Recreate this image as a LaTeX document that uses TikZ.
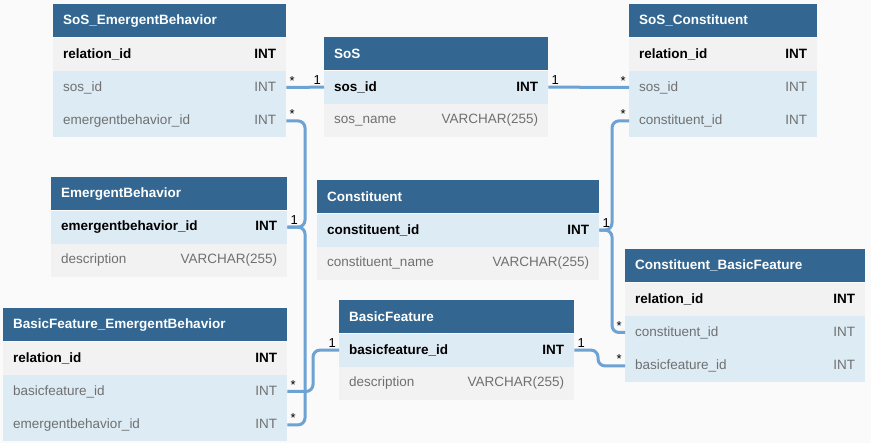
\documentclass[tikz,border=0pt]{standalone}
\usepackage{fontspec}
\setmainfont{Liberation Sans}
\usepackage{tikz}
\usetikzlibrary{positioning}
\definecolor{hdrblue}{HTML}{336791}
\definecolor{rowblue}{HTML}{DDEBF4}
\definecolor{rowgray}{HTML}{F2F2F2}
\definecolor{fieldgray}{HTML}{707070}
\definecolor{linkblue}{HTML}{6CA2D4}
\definecolor{bggray}{HTML}{FAFAFA}
\tikzset{tbl/.style={rectangle,anchor=north west,minimum height=33pt,inner xsep=10pt,inner ysep=0pt,text width=#1,align=left,font=\fontsize{13.5}{15}\selectfont},
  hdr/.style={tbl=#1,fill=hdrblue,text=white,font=\bfseries\fontsize{13.5}{15}\selectfont},
  pk/.style={tbl=#1,text=black,font=\bfseries\fontsize{13.5}{15}\selectfont},
  col/.style={tbl=#1,text=fieldgray},
  gr/.style={fill=rowgray},
  bl/.style={fill=rowblue},
  conn/.style={draw=linkblue,line width=3pt,rounded corners=7pt},
  card/.style={font=\fontsize{13}{14}\selectfont,inner sep=1pt,text=black}}

\begin{document}
\begin{tikzpicture}[x=1pt,y=-1pt]
        \fill[bggray] (0,0) rectangle (871,443);

        \node[hdr=213] (seb-h) at (53,4) {SoS\_EmergentBehavior};
        \node[pk=213,gr] (seb-rel) at (seb-h.south west) {relation\_id\hfill INT};
        \node[col=213,bl] (seb-sos) at (seb-rel.south west) {sos\_id\hfill INT};
        \node[col=213,bl] (seb-eb) at (seb-sos.south west) {emergentbehavior\_id\hfill INT};

        \node[hdr=204] (sos-h) at (324,37) {SoS};
        \node[pk=204,bl] (sos-id) at (sos-h.south west) {sos\_id\hfill INT};
        \node[col=204,gr] (sos-name) at (sos-id.south west) {sos\_name\hfill VARCHAR(255)};

        \node[hdr=168] (sc-h) at (629,4) {SoS\_Constituent};
        \node[pk=168,gr] (sc-rel) at (sc-h.south west) {relation\_id\hfill INT};
        \node[col=168,bl] (sc-sos) at (sc-rel.south west) {sos\_id\hfill INT};
        \node[col=168,bl] (sc-con) at (sc-sos.south west) {constituent\_id\hfill INT};

        \node[hdr=216] (eb-h) at (51,177) {EmergentBehavior};
        \node[pk=216,bl] (eb-id) at (eb-h.south west) {emergentbehavior\_id\hfill INT};
        \node[col=216,gr] (eb-desc) at (eb-id.south west) {description\hfill VARCHAR(255)};

        \node[hdr=262] (con-h) at (317,180) {Constituent};
        \node[pk=262,bl] (con-id) at (con-h.south west) {constituent\_id\hfill INT};
        \node[col=262,gr] (con-name) at (con-id.south west) {constituent\_name\hfill VARCHAR(255)};

        \node[hdr=220] (cbf-h) at (625,249) {Constituent\_BasicFeature};
        \node[pk=220,gr] (cbf-rel) at (cbf-h.south west) {relation\_id\hfill INT};
        \node[col=220,bl] (cbf-con) at (cbf-rel.south west) {constituent\_id\hfill INT};
        \node[col=220,bl] (cbf-bf) at (cbf-con.south west) {basicfeature\_id\hfill INT};

        \node[hdr=264] (bfeb-h) at (3,308) {BasicFeature\_EmergentBehavior};
        \node[pk=264,gr] (bfeb-rel) at (bfeb-h.south west) {relation\_id\hfill INT};
        \node[col=264,bl] (bfeb-bf) at (bfeb-rel.south west) {basicfeature\_id\hfill INT};
        \node[col=264,bl] (bfeb-eb) at (bfeb-bf.south west) {emergentbehavior\_id\hfill INT};

        \node[hdr=215] (bf-h) at (339,300) {BasicFeature};
        \node[pk=215,bl] (bf-id) at (bf-h.south west) {basicfeature\_id\hfill INT};
        \node[col=215,gr] (bf-desc) at (bf-id.south west) {description\hfill VARCHAR(255)};

        \coordinate (ebbus) at (305,0);
        \coordinate (conbus) at (612,0);
        \coordinate (bfin) at (313,0);
        \coordinate (bfout) at (598,0);

        \draw [conn] (seb-sos.east) -- (sos-id.west);
        \draw [conn] (seb-eb.east) -| (ebbus |- eb-id.east) -- (eb-id.east);
        \draw [conn] (bfeb-eb.east) -| (ebbus |- eb-id.east) -- (eb-id.east);
        \draw [conn] (sos-id.east) -- (sc-sos.west);
        \draw [conn] (sc-con.west) -| (conbus |- con-id.east) -- (con-id.east);
        \draw [conn] (cbf-con.west) -| (conbus |- con-id.east) -- (con-id.east);
        \draw [conn] (bfeb-bf.east) -| (bfin |- bf-id.west) -- (bf-id.west);
        \draw [conn] (bf-id.east) -| (bfout |- cbf-bf.west) -- (cbf-bf.west);

        \node[card,above right=1pt and 2pt of seb-sos.east] (c1) {*};
        \node[card,above left=1pt and 2pt of sos-id.west] (c2) {1};
        \node[card,above right=1pt and 2pt of seb-eb.east] (c3) {*};
        \node[card,above right=1pt and 2pt of eb-id.east] (c4) {1};
        \node[card,above right=1pt and 2pt of bfeb-bf.east] (c5) {*};
        \node[card,above right=1pt and 2pt of bfeb-eb.east] (c6) {*};
        \node[card,above left=1pt and 2pt of bf-id.west] (c7) {1};
        \node[card,above right=1pt and 2pt of sos-id.east] (c8) {1};
        \node[card,above left=1pt and 2pt of sc-sos.west] (c9) {*};
        \node[card,above left=1pt and 2pt of sc-con.west] (c10) {*};
        \node[card,above right=1pt and 2pt of con-id.east] (c11) {1};
        \node[card,above left=1pt and 2pt of cbf-con.west] (c12) {*};
        \node[card,above right=1pt and 2pt of bf-id.east] (c13) {1};
        \node[card,above left=1pt and 2pt of cbf-bf.west] (c14) {*};
\end{tikzpicture}
\end{document}
